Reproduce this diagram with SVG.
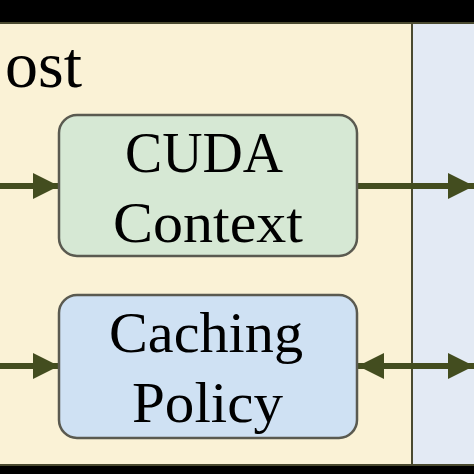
<svg xmlns="http://www.w3.org/2000/svg" width="474" height="474" viewBox="0 0 474 474">
<style>
.lbl{font-family:"Liberation Serif","DejaVu Serif",serif;font-size:57px;fill:#000}
.box{stroke:#5a5a50;stroke-width:2.5}
.edge{stroke:#434d1f;stroke-width:6;fill:none}
</style>
<defs>
<marker id="ah" markerWidth="26" markerHeight="26" refX="26" refY="13" orient="auto" markerUnits="userSpaceOnUse">
<path d="M0,0 L26,13 L0,26 Z" fill="#434d1f"/>
</marker>
<marker id="ahs" markerWidth="26" markerHeight="26" refX="0" refY="13" orient="auto" markerUnits="userSpaceOnUse">
<path d="M26,0 L0,13 L26,26 Z" fill="#434d1f"/>
</marker>
</defs>
<rect x="0" y="0" width="474" height="474" fill="#000"/>
<rect x="0" y="23" width="412" height="443" fill="#faf2d6"/>
<rect x="412" y="23" width="62" height="443" fill="#e3eaf4"/>
<line x1="0" y1="23" x2="474" y2="23" stroke="#4a4a30" stroke-width="2"/>
<line x1="0" y1="465" x2="474" y2="465" stroke="#4a4a30" stroke-width="2"/>
<line x1="412" y1="23" x2="412" y2="466" stroke="#4a4a30" stroke-width="2"/>
<text x="5" y="87" font-family="Liberation Serif, DejaVu Serif, serif" font-size="65" fill="#000" textLength="77" lengthAdjust="spacingAndGlyphs">ost</text>
<g id="connectors">
<line class="edge" x1="0" y1="186" x2="59" y2="186" marker-end="url(#ah)"/>
<line class="edge" x1="358" y1="186" x2="474" y2="186" marker-end="url(#ah)"/>
<line class="edge" x1="0" y1="366" x2="59" y2="366" marker-end="url(#ah)"/>
<line class="edge" x1="358" y1="366" x2="474" y2="366" marker-start="url(#ahs)" marker-end="url(#ah)"/>
</g>
<g id="cuda-context">
<rect class="box" x="59" y="115" width="298" height="141" rx="18" fill="#d6e8d4"/>
<text class="lbl" x="125" y="172" textLength="158" lengthAdjust="spacingAndGlyphs">CUDA</text>
<text class="lbl" x="113" y="242" textLength="190" lengthAdjust="spacingAndGlyphs">Context</text>
</g>
<g id="caching-policy">
<rect class="box" x="59" y="295" width="298" height="143" rx="18" fill="#cfe1f3"/>
<text class="lbl" x="109" y="352" textLength="194" lengthAdjust="spacingAndGlyphs">Caching</text>
<text class="lbl" x="132" y="422" textLength="151" lengthAdjust="spacingAndGlyphs">Policy</text>
</g>
</svg>
